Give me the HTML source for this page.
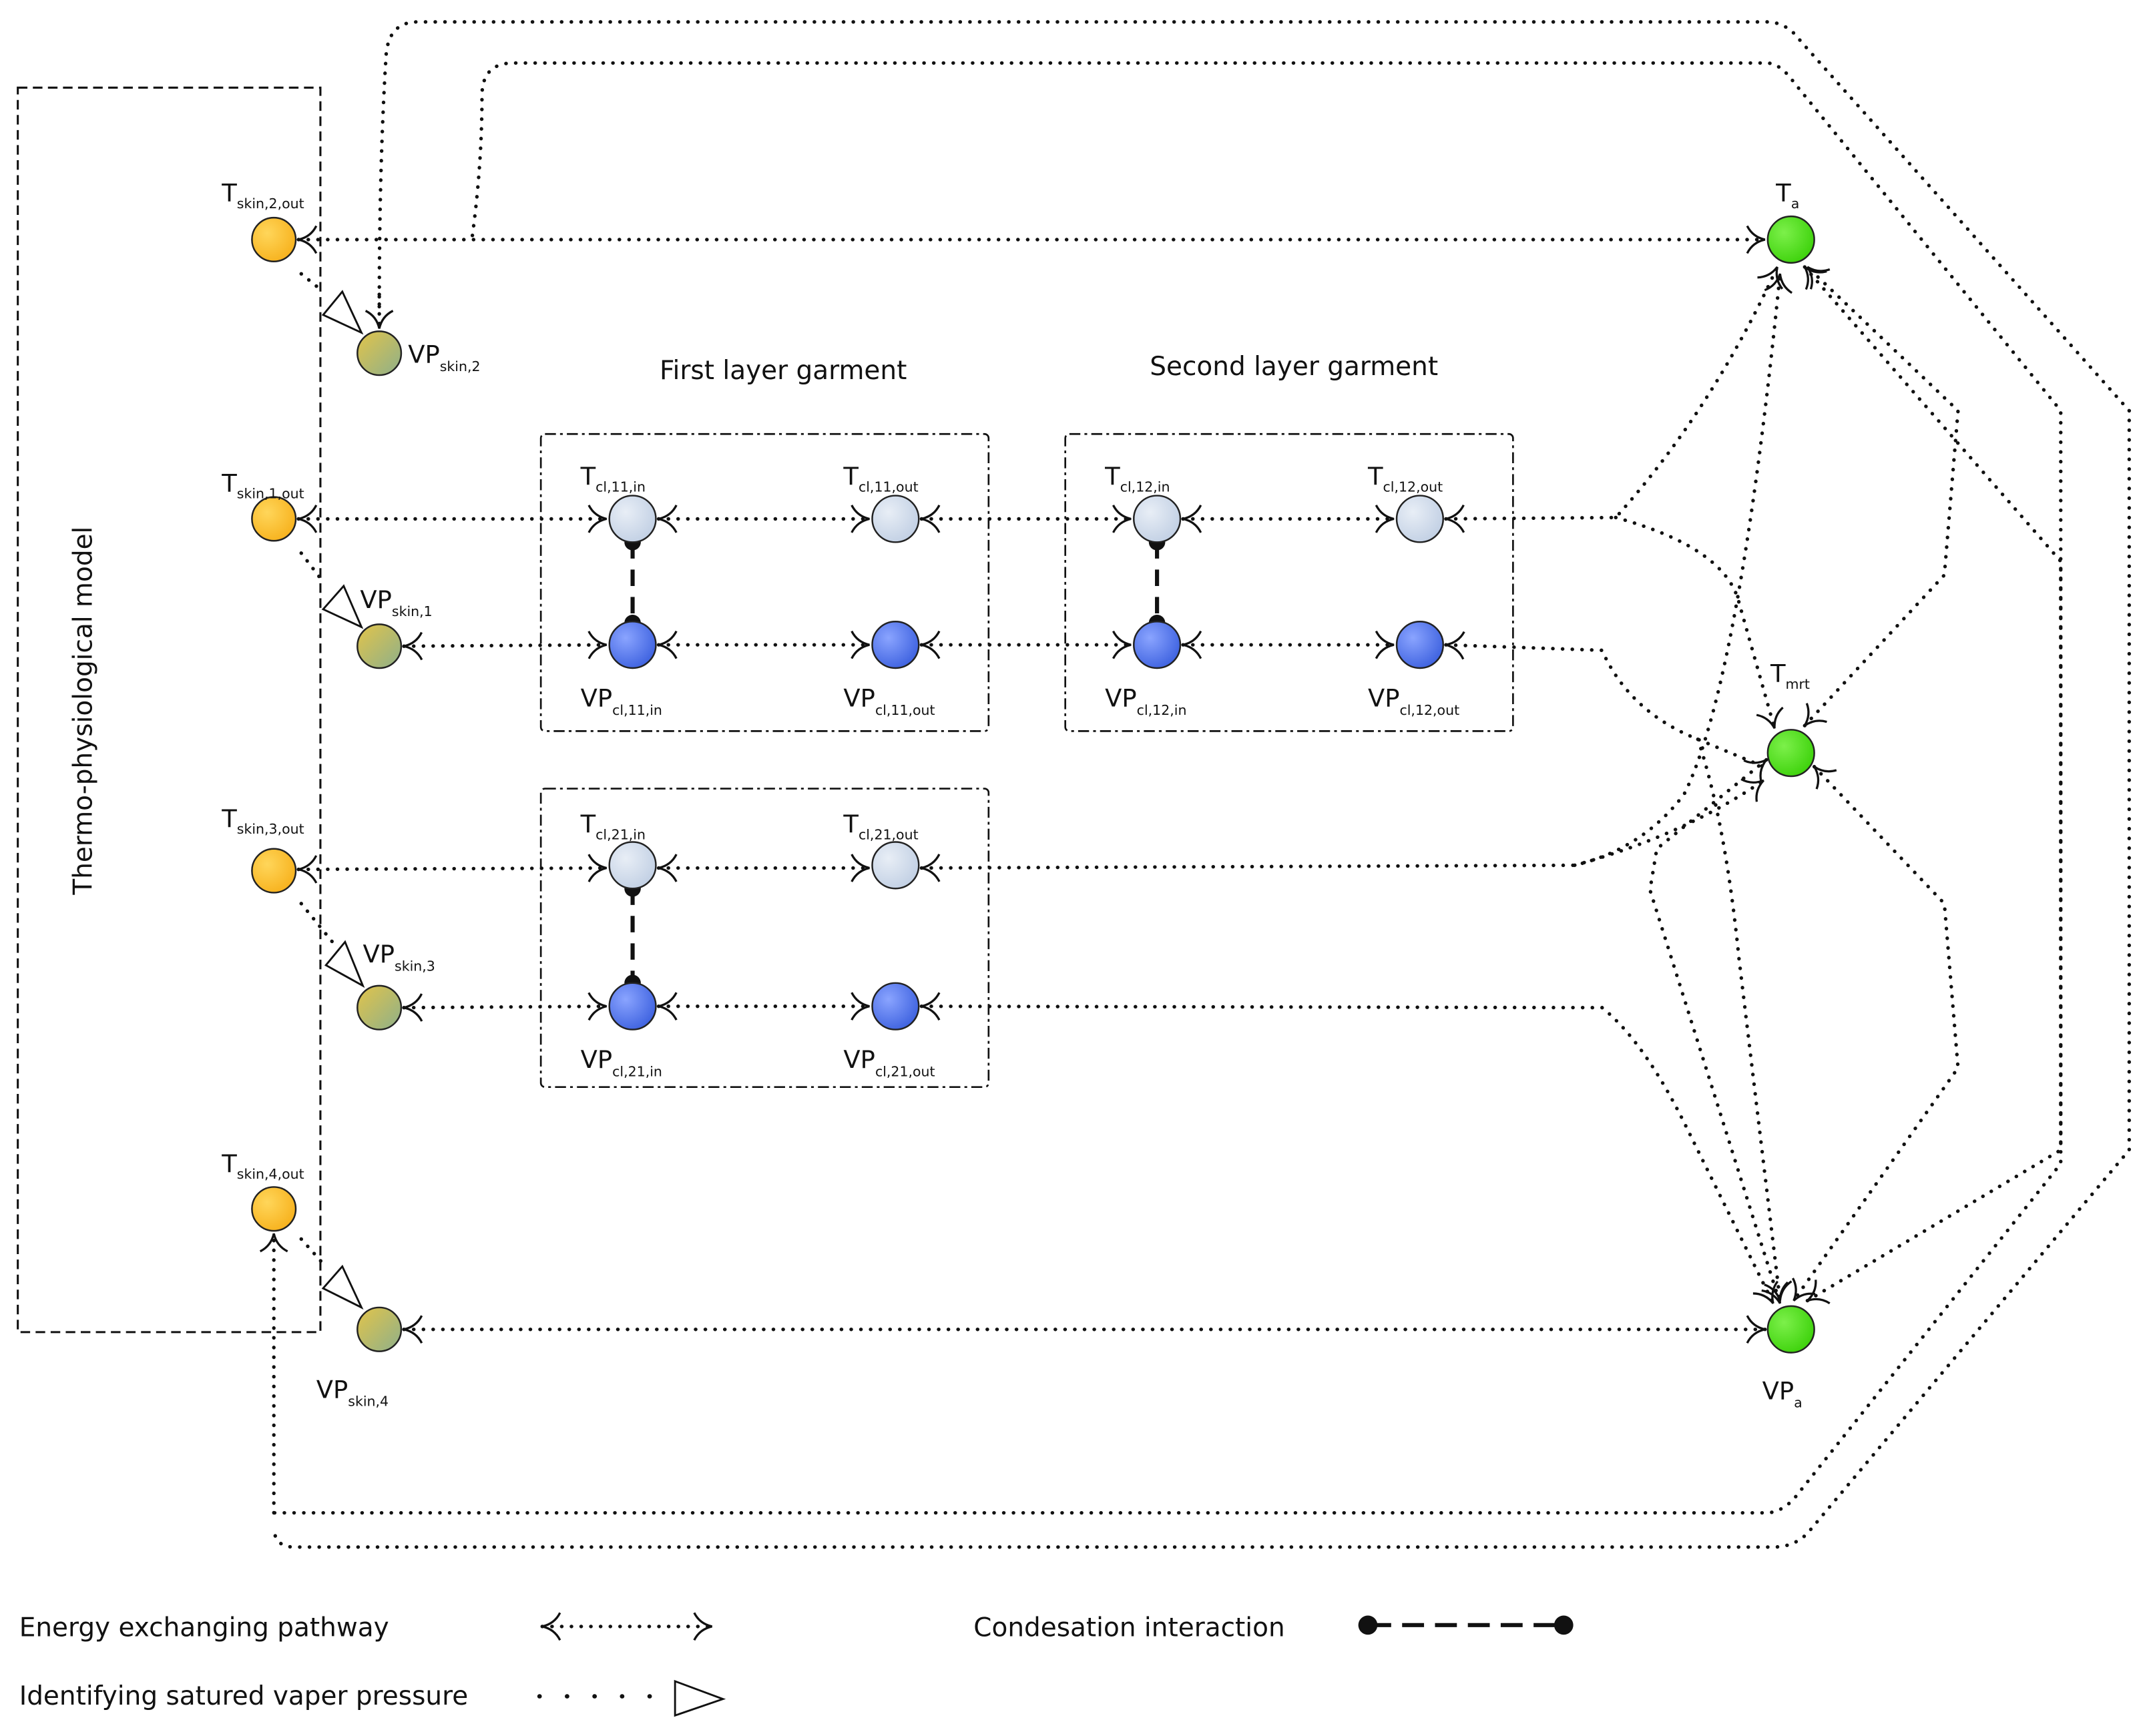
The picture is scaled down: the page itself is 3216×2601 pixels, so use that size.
<!DOCTYPE html>
<html><head><meta charset="utf-8">
<style>
html,body{margin:0;padding:0;background:#fff;}
svg{display:block;}
text{font-family:"DejaVu Sans","Liberation Sans",sans-serif;fill:#111;}
</style></head>
<body>
<svg width="3216" height="2601" viewBox="0 0 1568 1268" preserveAspectRatio="none" xmlns="http://www.w3.org/2000/svg">
<defs>
<radialGradient id="gO" cx="35%" cy="35%" r="70%"><stop offset="0" stop-color="#ffd65a"/><stop offset="1" stop-color="#f7b21e"/></radialGradient>
<linearGradient id="gV" x1="0" y1="0" x2="1" y2="1"><stop offset="0" stop-color="#e2c44a"/><stop offset="1" stop-color="#8eb08a"/></linearGradient>
<radialGradient id="gL" cx="35%" cy="35%" r="70%"><stop offset="0" stop-color="#e8eef6"/><stop offset="1" stop-color="#c2d0e4"/></radialGradient>
<radialGradient id="gB" cx="35%" cy="35%" r="70%"><stop offset="0" stop-color="#8aa4ff"/><stop offset="1" stop-color="#3f63e0"/></radialGradient>
<radialGradient id="gG" cx="35%" cy="35%" r="70%"><stop offset="0" stop-color="#7cf04a"/><stop offset="1" stop-color="#3ed20c"/></radialGradient>
<marker id="ch" markerUnits="userSpaceOnUse" markerWidth="30" markerHeight="30" refX="15" refY="15" orient="auto-start-reverse" viewBox="0 0 30 30" overflow="visible">
<path d="M2,5 Q6,13 15,15 Q6,17 2,25" fill="none" stroke="#111" stroke-width="1.6"/>
</marker>
</defs>
<g fill="none" stroke="#111">
<rect x="13" y="64" width="221" height="909" stroke-width="1.5" stroke-dasharray="7 4"/>
<g stroke-width="1.3" stroke-dasharray="8 3 2 3">
<rect x="395" y="317" width="327" height="217" rx="3"/>
<rect x="778" y="317" width="327" height="217" rx="3"/>
<rect x="395" y="576" width="327" height="218" rx="3"/>
</g>
<g stroke-width="2.6" stroke-dasharray="0.1 7" stroke-linecap="round" marker-start="url(#ch)" marker-end="url(#ch)">
<line x1="218" y1="175" x2="1289" y2="175"/>
<line x1="218" y1="379" x2="443" y2="379"/>
<line x1="481" y1="379" x2="635" y2="379"/>
<line x1="673" y1="379" x2="826" y2="379"/>
<line x1="864" y1="379" x2="1018" y2="379"/>
<line x1="295" y1="472" x2="443" y2="471"/>
<line x1="481" y1="471" x2="635" y2="471"/>
<line x1="673" y1="471" x2="826" y2="471"/>
<line x1="864" y1="471" x2="1018" y2="471"/>
<line x1="218" y1="635" x2="443" y2="634"/>
<line x1="481" y1="634" x2="635" y2="634"/>
<line x1="295" y1="736" x2="443" y2="735"/>
<line x1="481" y1="735" x2="635" y2="735"/>
<line x1="295" y1="971" x2="1289" y2="971"/>
<line x1="200" y1="1105" x2="200" y2="901" marker-start="none"/>
<line x1="277" y1="215" x2="277" y2="240" marker-start="none"/>
</g>
<g stroke-width="2.6" stroke-dasharray="0.1 7" stroke-linecap="round">
<path d="M1056,379 L1180,378 Q1250,300 1298,195" marker-start="url(#ch)" marker-end="url(#ch)"/>
<path d="M1180,378 Q1260,400 1270,440 L1296,532" marker-end="url(#ch)"/>
<path d="M1056,471 L1170,475 Q1190,520 1240,540 L1288,560" marker-start="url(#ch)"/>
<path d="M1240,540 Q1260,600 1270,700 L1300,950" marker-end="url(#ch)"/>
<path d="M673,634 L1150,632 Q1200,620 1230,580 Q1270,500 1300,200" marker-start="url(#ch)" marker-end="url(#ch)"/>
<path d="M1150,632 Q1230,610 1288,570" marker-end="url(#ch)"/>
<path d="M673,735 L1170,736 Q1200,760 1230,820 L1295,952" marker-start="url(#ch)" marker-end="url(#ch)"/>
<path d="M1290,555 L1210,620 L1205,650 L1300,952" marker-start="url(#ch)" marker-end="url(#ch)"/>
<path d="M1325,560 L1420,660 L1430,780 L1310,950" marker-start="url(#ch)" marker-end="url(#ch)"/>
<path d="M1318,195 L1505,410 L1505,840 L1320,950" marker-start="url(#ch)" marker-end="url(#ch)"/>
<path d="M1318,530 L1420,420 L1430,300 L1320,195" marker-start="url(#ch)" marker-end="url(#ch)"/>
<path d="M277,224 Q277,120 282,40 Q284,16 305,16 L1290,16 Q1305,16 1315,30 L1555,300 L1555,840 L1320,1120 Q1310,1130 1295,1130 L215,1130 Q200,1130 200,1115" />
<path d="M345,172 Q352,120 352,70 Q352,46 375,46 L1290,46 Q1300,46 1310,60 L1505,300 L1505,430 L1505,850 L1310,1095 Q1300,1105 1290,1105 L200,1105"/>
<path d="M220,200 L236,213"/>
<path d="M220,404 L236,425"/>
<path d="M220,660 L246,692"/>
<path d="M220,905 L236,923"/>
</g>
<g stroke-width="1.4" fill="#fff">
<polygon points="236,230 250,213 264,243"/>
<polygon points="236,445 251,428 264,458"/>
<polygon points="238,705 252,688 265,720"/>
<polygon points="236,941 250,925 264,955"/>
</g>
<g stroke-width="3" stroke-dasharray="12 8">
<line x1="462" y1="396" x2="462" y2="455"/>
<line x1="845" y1="396" x2="845" y2="455"/>
<line x1="462" y1="649" x2="462" y2="718"/>
</g>
</g>
<g fill="#111">
<circle cx="462" cy="396" r="6"/><circle cx="462" cy="455" r="6"/>
<circle cx="845" cy="396" r="6"/><circle cx="845" cy="455" r="6"/>
<circle cx="462" cy="649" r="6"/><circle cx="462" cy="718" r="6"/>
</g>
<g stroke="#222" stroke-width="1.2">
<circle cx="200" cy="175" r="16" fill="url(#gO)"/>
<circle cx="200" cy="379" r="16" fill="url(#gO)"/>
<circle cx="200" cy="636" r="16" fill="url(#gO)"/>
<circle cx="200" cy="883" r="16" fill="url(#gO)"/>
<circle cx="277" cy="258" r="16" fill="url(#gV)"/>
<circle cx="277" cy="472" r="16" fill="url(#gV)"/>
<circle cx="277" cy="736" r="16" fill="url(#gV)"/>
<circle cx="277" cy="971" r="16" fill="url(#gV)"/>
<circle cx="1308" cy="175" r="17" fill="url(#gG)"/>
<circle cx="1308" cy="550" r="17" fill="url(#gG)"/>
<circle cx="1308" cy="971" r="17" fill="url(#gG)"/>
<circle cx="462" cy="379" r="17" fill="url(#gL)"/>
<circle cx="654" cy="379" r="17" fill="url(#gL)"/>
<circle cx="845" cy="379" r="17" fill="url(#gL)"/>
<circle cx="1037" cy="379" r="17" fill="url(#gL)"/>
<circle cx="462" cy="632" r="17" fill="url(#gL)"/>
<circle cx="654" cy="632" r="17" fill="url(#gL)"/>
<circle cx="462" cy="471" r="17" fill="url(#gB)"/>
<circle cx="654" cy="471" r="17" fill="url(#gB)"/>
<circle cx="845" cy="471" r="17" fill="url(#gB)"/>
<circle cx="1037" cy="471" r="17" fill="url(#gB)"/>
<circle cx="462" cy="735" r="17" fill="url(#gB)"/>
<circle cx="654" cy="735" r="17" fill="url(#gB)"/>
</g>
<g font-size="18">
<text x="162" y="147">T<tspan font-size="10" dy="5">skin,2,out</tspan></text>
<text x="162" y="359">T<tspan font-size="10" dy="5">skin,1,out</tspan></text>
<text x="162" y="604">T<tspan font-size="10" dy="5">skin,3,out</tspan></text>
<text x="162" y="856">T<tspan font-size="10" dy="5">skin,4,out</tspan></text>
<text x="298" y="265">VP<tspan font-size="10" dy="6">skin,2</tspan></text>
<text x="263" y="444">VP<tspan font-size="10" dy="6">skin,1</tspan></text>
<text x="265" y="703">VP<tspan font-size="10" dy="6">skin,3</tspan></text>
<text x="231" y="1021">VP<tspan font-size="10" dy="6">skin,4</tspan></text>
<text x="1297" y="147">T<tspan font-size="10" dy="5">a</tspan></text>
<text x="1293" y="498">T<tspan font-size="10" dy="5">mrt</tspan></text>
<text x="1287" y="1022">VP<tspan font-size="10" dy="6">a</tspan></text>
<text x="424" y="354">T<tspan font-size="10" dy="5">cl,11,in</tspan></text>
<text x="616" y="354">T<tspan font-size="10" dy="5">cl,11,out</tspan></text>
<text x="807" y="354">T<tspan font-size="10" dy="5">cl,12,in</tspan></text>
<text x="999" y="354">T<tspan font-size="10" dy="5">cl,12,out</tspan></text>
<text x="424" y="516">VP<tspan font-size="10" dy="6">cl,11,in</tspan></text>
<text x="616" y="516">VP<tspan font-size="10" dy="6">cl,11,out</tspan></text>
<text x="807" y="516">VP<tspan font-size="10" dy="6">cl,12,in</tspan></text>
<text x="999" y="516">VP<tspan font-size="10" dy="6">cl,12,out</tspan></text>
<text x="424" y="608">T<tspan font-size="10" dy="5">cl,21,in</tspan></text>
<text x="616" y="608">T<tspan font-size="10" dy="5">cl,21,out</tspan></text>
<text x="424" y="780">VP<tspan font-size="10" dy="6">cl,21,in</tspan></text>
<text x="616" y="780">VP<tspan font-size="10" dy="6">cl,21,out</tspan></text>
</g>
<g font-size="19">
<text x="572" y="277" text-anchor="middle">First layer garment</text>
<text x="945" y="274" text-anchor="middle">Second layer garment</text>
<text transform="translate(67,519) rotate(-90)" text-anchor="middle">Thermo-physiological model</text>
<text x="14" y="1195">Energy exchanging pathway</text>
<text x="14" y="1245">Identifying satured vaper pressure</text>
<text x="711" y="1195">Condesation interaction</text>
</g>
<g fill="none" stroke="#111">
<line x1="396" y1="1188" x2="520" y2="1188" stroke-width="2.6" stroke-dasharray="0.1 7" stroke-linecap="round" marker-start="url(#ch)" marker-end="url(#ch)"/>
<line x1="394" y1="1239" x2="476" y2="1239" stroke-width="3.2" stroke-dasharray="0.1 20" stroke-linecap="round"/>
<polygon points="493,1228 528,1241 493,1253" stroke-width="1.4"/>
<line x1="1000" y1="1187" x2="1142" y2="1187" stroke-width="3" stroke-dasharray="16 8"/>
</g>
<circle cx="999" cy="1187" r="7" fill="#111"/>
<circle cx="1142" cy="1187" r="7" fill="#111"/>
</svg>
</body></html>
